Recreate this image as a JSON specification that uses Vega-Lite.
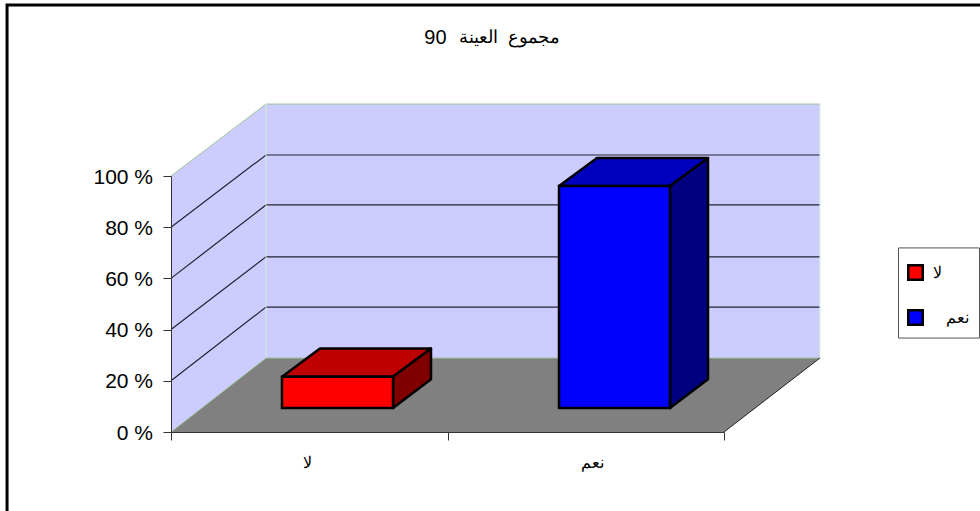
{
  "$schema": "https://vega.github.io/schema/vega-lite/v6.json",
  "width": 980,
  "height": 511,
  "padding": 0,
  "autosize": "none",
  "background": "white",
  "config": {"view": {"stroke": null}, "text": {"font": "Liberation Sans"}},
  "datasets": {
    "walls": [
      {"part": "back", "x": 0.3436, "x2": 2.347, "y": 128.1, "y2": 28.9},
      {"part": "side", "x": 0, "y": 100, "y2": 0},
      {"part": "side", "x": 0.3436, "y": 128.1, "y2": 28.9},
      {"part": "floor", "y": 0, "x": 0, "x2": 2},
      {"part": "floor", "y": 28.9, "x": 0.3436, "x2": 2.347},
      {"part": "legendBox", "x": 2.631, "x2": 2.924, "y": 71.9, "y2": 36.7}
    ],
    "lines": [
      {"line": "grid20", "tone": "grid", "x": 0, "y": 20},
      {"line": "grid20", "tone": "grid", "x": 0.3436, "y": 48.8},
      {"line": "grid20", "tone": "grid", "x": 2.347, "y": 48.8},
      {"line": "grid40", "tone": "grid", "x": 0, "y": 40},
      {"line": "grid40", "tone": "grid", "x": 0.3436, "y": 68.4},
      {"line": "grid40", "tone": "grid", "x": 2.347, "y": 68.4},
      {"line": "grid60", "tone": "grid", "x": 0, "y": 60},
      {"line": "grid60", "tone": "grid", "x": 0.3436, "y": 88.7},
      {"line": "grid60", "tone": "grid", "x": 2.347, "y": 88.7},
      {"line": "grid80", "tone": "grid", "x": 0, "y": 80},
      {"line": "grid80", "tone": "grid", "x": 0.3436, "y": 108.2},
      {"line": "grid80", "tone": "grid", "x": 2.347, "y": 108.2},
      {"line": "wallTop", "tone": "edge", "x": 0, "y": 100},
      {"line": "wallTop", "tone": "edge", "x": 0.3436, "y": 128.1},
      {"line": "wallTop", "tone": "edge", "x": 2.347, "y": 128.1},
      {"line": "corner", "tone": "pale", "x": 0.3436, "y": 128.1},
      {"line": "corner", "tone": "pale", "x": 0.3436, "y": 28.9},
      {"line": "wallRight", "tone": "pale", "x": 2.347, "y": 128.1},
      {"line": "wallRight", "tone": "pale", "x": 2.347, "y": 28.9},
      {"line": "floorBack", "tone": "edge", "x": 0, "y": 0},
      {"line": "floorBack", "tone": "edge", "x": 0.3436, "y": 28.9},
      {"line": "floorBack", "tone": "edge", "x": 2.347, "y": 28.9},
      {"line": "floorRight", "tone": "dark", "x": 2, "y": 0},
      {"line": "floorRight", "tone": "dark", "x": 2.347, "y": 28.9},
      {"line": "frame", "tone": "frame", "x": -0.593, "y": -31},
      {"line": "frame", "tone": "frame", "x": -0.593, "y": 166.8},
      {"line": "frame", "tone": "frame", "x": 2.93, "y": 166.8}
    ],
    "faces": [
      {"face": "redTop", "y": 21.6, "x": 0.4014, "x2": 0.8029},
      {"face": "redTop", "y": 32.6, "x": 0.5389, "x2": 0.9403},
      {"face": "blueTop", "y": 96.1, "x": 1.4033, "x2": 1.8047},
      {"face": "blueTop", "y": 107, "x": 1.5407, "x2": 1.9421},
      {"face": "redSide", "x": 0.8029, "y": 21.6, "y2": 9.375},
      {"face": "redSide", "x": 0.9403, "y": 32.6, "y2": 20.6},
      {"face": "blueSide", "x": 1.8047, "y": 96.1, "y2": 9.375},
      {"face": "blueSide", "x": 1.9421, "y": 107, "y2": 20.6}
    ],
    "bars": [
      {"answer": "لا", "x": 0.4014, "x2": 0.8029, "y": 21.6, "y2": 9.375},
      {"answer": "نعم", "x": 1.4033, "x2": 1.8047, "y": 96.1, "y2": 9.375}
    ],
    "labels": [
      {"label": "لا", "x": 0.492, "y": -12},
      {"label": "نعم", "x": 1.523, "y": -12}
    ],
    "headingText": [
      {"label": "مجموع\u00A0\u00A0العينة", "x": 1.226, "y": 153.9}
    ],
    "headingCount": [
      {"label": "90", "x": 0.9566, "y": 153.9}
    ]
  },
  "encoding": {
    "x": {
      "field": "x",
      "type": "quantitative",
      "stack": null,
      "scale": {"domain": [0, 2], "range": [171, 724], "nice": false, "zero": false},
      "axis": {
        "title": null,
        "orient": "bottom",
        "offset": -79,
        "values": [0, 1, 2],
        "labels": false,
        "grid": false,
        "tickSize": 8,
        "tickColor": "#333333",
        "domainColor": "#333333",
        "zindex": 1
      }
    },
    "y": {
      "field": "y",
      "type": "quantitative",
      "stack": null,
      "scale": {"domain": [0, 100], "range": [432, 176], "nice": false, "zero": false},
      "axis": {
        "title": null,
        "orient": "left",
        "offset": -171,
        "values": [0, 20, 40, 60, 80, 100],
        "labelExpr": "datum.value + ' %'",
        "labelFont": "Liberation Sans",
        "labelFontSize": 21,
        "labelColor": "#000000",
        "labelPadding": 10.5,
        "labelOffset": 1,
        "grid": false,
        "tickSize": 8,
        "tickColor": "#333333",
        "domainColor": "#333333",
        "zindex": 1
      }
    }
  },
  "layer": [
    {
      "data": {"name": "walls"},
      "transform": [{"filter": "datum.part === 'back'"}],
      "mark": {"type": "rect", "color": "#CCCCFF"},
      "encoding": {"x2": {"field": "x2"}, "y2": {"field": "y2"}}
    },
    {
      "data": {"name": "walls"},
      "transform": [{"filter": "datum.part === 'side'"}],
      "mark": {"type": "area", "color": "#CCCCFF", "orient": "vertical"},
      "encoding": {"y2": {"field": "y2"}}
    },
    {
      "data": {"name": "walls"},
      "transform": [{"filter": "datum.part === 'floor'"}],
      "mark": {"type": "area", "color": "#808080", "orient": "horizontal"},
      "encoding": {"x2": {"field": "x2"}}
    },
    {
      "data": {"name": "walls"},
      "transform": [{"filter": "datum.part === 'legendBox'"}],
      "mark": {"type": "rect", "fill": "#FFFFFF", "stroke": "#555555", "strokeWidth": 1},
      "encoding": {"x2": {"field": "x2"}, "y2": {"field": "y2"}}
    },
    {
      "data": {"name": "lines"},
      "transform": [{"filter": "datum.tone === 'grid'"}],
      "mark": {"type": "line", "color": "#222233", "strokeWidth": 1.2},
      "encoding": {"detail": {"field": "line"}, "order": {"field": "x"}}
    },
    {
      "data": {"name": "lines"},
      "transform": [{"filter": "datum.tone === 'edge'"}],
      "mark": {"type": "line", "color": "#9CC49C", "strokeWidth": 1},
      "encoding": {"detail": {"field": "line"}, "order": {"field": "x"}}
    },
    {
      "data": {"name": "lines"},
      "transform": [{"filter": "datum.tone === 'pale'"}],
      "mark": {"type": "line", "color": "#D4F0D4", "strokeWidth": 1},
      "encoding": {"detail": {"field": "line"}}
    },
    {
      "data": {"name": "lines"},
      "transform": [{"filter": "datum.tone === 'dark'"}],
      "mark": {"type": "line", "color": "#222222", "strokeWidth": 1},
      "encoding": {"detail": {"field": "line"}}
    },
    {
      "data": {"name": "lines"},
      "transform": [{"filter": "datum.tone === 'frame'"}],
      "mark": {"type": "line", "color": "#000000", "strokeWidth": 3, "clip": false},
      "encoding": {"detail": {"field": "line"}}
    },
    {
      "data": {"name": "faces"},
      "transform": [{"filter": "datum.face === 'redTop'"}],
      "mark": {"type": "area", "orient": "horizontal", "fill": "#BF0000", "stroke": "#000000", "strokeWidth": 2.5, "strokeJoin": "round"},
      "encoding": {"x2": {"field": "x2"}}
    },
    {
      "data": {"name": "faces"},
      "transform": [{"filter": "datum.face === 'redSide'"}],
      "mark": {"type": "area", "orient": "vertical", "fill": "#800000", "stroke": "#000000", "strokeWidth": 2.5, "strokeJoin": "round"},
      "encoding": {"y2": {"field": "y2"}}
    },
    {
      "data": {"name": "faces"},
      "transform": [{"filter": "datum.face === 'blueTop'"}],
      "mark": {"type": "area", "orient": "horizontal", "fill": "#0000BF", "stroke": "#000000", "strokeWidth": 2.5, "strokeJoin": "round"},
      "encoding": {"x2": {"field": "x2"}}
    },
    {
      "data": {"name": "faces"},
      "transform": [{"filter": "datum.face === 'blueSide'"}],
      "mark": {"type": "area", "orient": "vertical", "fill": "#000080", "stroke": "#000000", "strokeWidth": 2.5, "strokeJoin": "round"},
      "encoding": {"y2": {"field": "y2"}}
    },
    {
      "data": {"name": "bars"},
      "mark": {"type": "rect", "stroke": "#000000", "strokeWidth": 2.5},
      "encoding": {
        "x2": {"field": "x2"},
        "y2": {"field": "y2"},
        "fill": {
          "field": "answer",
          "type": "nominal",
          "scale": {"domain": ["لا", "نعم"], "range": ["#FF0000", "#0000FF"]},
          "legend": {
            "title": null,
            "orient": "none",
            "legendX": 907,
            "legendY": 264,
            "padding": 0,
            "symbolType": "square",
            "symbolSize": 210,
            "symbolStrokeColor": "#000000",
            "symbolStrokeWidth": 2.5,
            "labelFont": "Liberation Sans",
            "labelFontSize": 16,
            "labelColor": "#000000",
            "labelOffset": 9,
            "rowPadding": 20,
            "labelLimit": 60,
            "labelExpr": "datum.value === 'نعم' ? '\u200E\u00A0\u00A0\u00A0' + datum.label : datum.label"
          }
        }
      }
    },
    {
      "data": {"name": "labels"},
      "mark": {"type": "text", "fontSize": 16, "color": "#000000", "font": "Liberation Sans"},
      "encoding": {"text": {"field": "label"}}
    },
    {
      "data": {"name": "headingText"},
      "mark": {"type": "text", "fontSize": 18, "color": "#000000", "font": "Liberation Sans"},
      "encoding": {"text": {"field": "label"}}
    },
    {
      "data": {"name": "headingCount"},
      "mark": {"type": "text", "fontSize": 20, "color": "#000000", "font": "Liberation Sans"},
      "encoding": {"text": {"field": "label"}}
    }
  ]
}
